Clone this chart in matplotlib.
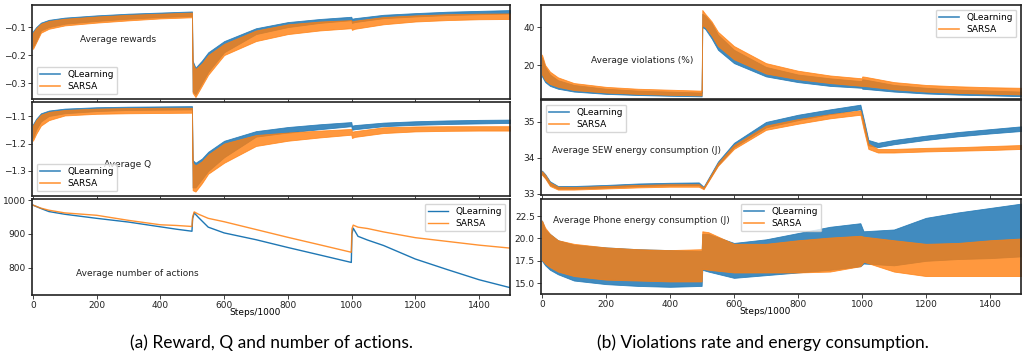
import matplotlib
matplotlib.use("Agg")
import matplotlib.pyplot as plt
from matplotlib.lines import Line2D

# ---- data (band = lower/upper envelope of the noisy curves) ----
band_steps = [0, 10, 25, 50, 100, 200, 300, 400, 499, 501, 510, 530, 550, 600,
              700, 800, 900, 999, 1001, 1010, 1100, 1200, 1300, 1400, 1500]

reward_ql_lo = [-0.170, -0.150, -0.112, -0.100, -0.088, -0.078, -0.070, -0.064, -0.060,
                -0.330, -0.340, -0.300, -0.260, -0.190, -0.125, -0.100, -0.085, -0.075,
                -0.085, -0.082, -0.068, -0.062, -0.057, -0.054, -0.051]
reward_ql_hi = [-0.115, -0.100, -0.084, -0.074, -0.066, -0.058, -0.052, -0.048, -0.044,
                -0.220, -0.245, -0.220, -0.190, -0.150, -0.104, -0.082, -0.071, -0.063,
                -0.070, -0.068, -0.056, -0.050, -0.045, -0.042, -0.039]
reward_sa_lo = [-0.178, -0.155, -0.120, -0.106, -0.094, -0.084, -0.076, -0.069, -0.065,
                -0.335, -0.350, -0.310, -0.270, -0.200, -0.150, -0.125, -0.112, -0.104,
                -0.110, -0.106, -0.090, -0.080, -0.075, -0.072, -0.071]
reward_sa_hi = [-0.120, -0.104, -0.088, -0.078, -0.070, -0.062, -0.056, -0.052, -0.048,
                -0.230, -0.250, -0.230, -0.200, -0.160, -0.112, -0.090, -0.080, -0.075,
                -0.080, -0.077, -0.064, -0.058, -0.054, -0.052, -0.051]

q_ql_lo = [-1.180, -1.150, -1.120, -1.100, -1.090, -1.082, -1.078, -1.077, -1.076,
           -1.360, -1.360, -1.330, -1.300, -1.250, -1.175, -1.160, -1.148, -1.137,
           -1.150, -1.148, -1.137, -1.132, -1.129, -1.127, -1.125]
q_ql_hi = [-1.130, -1.110, -1.090, -1.080, -1.073, -1.068, -1.066, -1.065, -1.064,
           -1.260, -1.270, -1.255, -1.230, -1.190, -1.155, -1.140, -1.130, -1.122,
           -1.135, -1.133, -1.124, -1.119, -1.116, -1.114, -1.113]
q_sa_lo = [-1.190, -1.165, -1.135, -1.115, -1.098, -1.092, -1.090, -1.089, -1.088,
           -1.370, -1.375, -1.345, -1.310, -1.270, -1.209, -1.190, -1.178, -1.168,
           -1.180, -1.176, -1.162, -1.156, -1.154, -1.153, -1.153]
q_sa_hi = [-1.135, -1.115, -1.095, -1.085, -1.078, -1.073, -1.071, -1.070, -1.070,
           -1.270, -1.280, -1.265, -1.240, -1.200, -1.169, -1.160, -1.153, -1.147,
           -1.157, -1.155, -1.141, -1.138, -1.137, -1.137, -1.137]

viol_ql_lo = [14.0, 11.0, 9.0, 7.5, 6.0, 4.8, 4.2, 3.8, 3.5, 40.0, 39.0, 34.0, 28.0, 21.0,
              14.0, 11.0, 9.0, 8.0, 7.5, 7.4, 6.0, 5.0, 4.4, 4.0, 3.6]
viol_ql_hi = [24.0, 19.0, 15.0, 12.0, 9.5, 7.5, 6.5, 6.0, 5.5, 47.0, 46.0, 42.0, 36.0, 28.0,
              19.0, 15.0, 13.0, 11.5, 12.5, 12.3, 9.5, 8.0, 7.0, 6.5, 6.0]
viol_sa_lo = [15.0, 12.0, 10.0, 8.5, 6.8, 5.5, 4.8, 4.3, 4.0, 41.0, 40.0, 35.5, 30.0, 23.0,
              15.5, 12.5, 10.5, 9.0, 9.0, 8.9, 7.2, 6.0, 5.3, 4.9, 4.5]
viol_sa_hi = [25.5, 20.0, 16.5, 13.5, 10.5, 8.5, 7.5, 7.0, 6.5, 49.0, 47.0, 43.0, 37.5, 30.0,
              21.0, 17.0, 14.5, 13.0, 14.0, 13.8, 11.0, 9.5, 8.8, 8.3, 8.0]

sew_steps = [0, 10, 25, 50, 100, 200, 300, 400, 490, 505, 550, 600, 700, 800, 900, 995,
             1005, 1020, 1050, 1100, 1200, 1300, 1400, 1500]
sew_ql_lo = [33.55, 33.45, 33.25, 33.15, 33.15, 33.18, 33.22, 33.24, 33.25, 33.15, 33.80, 34.30,
             34.85, 35.05, 35.22, 35.35, 34.90, 34.35, 34.30, 34.38, 34.50, 34.60, 34.68, 34.75]
sew_ql_hi = [33.65, 33.55, 33.35, 33.22, 33.22, 33.25, 33.29, 33.31, 33.32, 33.20, 33.90, 34.42,
             35.00, 35.20, 35.35, 35.48, 35.10, 34.50, 34.42, 34.50, 34.62, 34.72, 34.80, 34.88]
sew_sa_lo = [33.53, 33.43, 33.22, 33.12, 33.12, 33.15, 33.18, 33.20, 33.20, 33.13, 33.78, 34.25,
             34.78, 34.95, 35.10, 35.20, 34.80, 34.25, 34.15, 34.15, 34.18, 34.20, 34.22, 34.25]
sew_sa_hi = [33.63, 33.53, 33.32, 33.20, 33.19, 33.22, 33.25, 33.27, 33.27, 33.18, 33.86, 34.36,
             34.90, 35.08, 35.22, 35.32, 35.00, 34.40, 34.25, 34.25, 34.28, 34.30, 34.33, 34.36]

phone_steps = [0, 10, 25, 50, 100, 200, 300, 400, 499, 501, 520, 600, 700, 800, 900, 995,
               1005, 1100, 1200, 1300, 1400, 1500]
phone_ql_lo = [17.5, 17.0, 16.5, 16.0, 15.3, 14.9, 14.7, 14.6, 14.7, 16.5, 16.3, 15.6, 15.9,
               16.2, 16.5, 16.9, 17.2, 17.0, 17.5, 17.7, 17.8, 18.0]
phone_ql_hi = [22.0, 21.0, 20.5, 19.8, 19.3, 19.0, 18.8, 18.7, 18.6, 20.5, 20.5, 19.5, 19.9,
               20.6, 21.3, 21.7, 20.8, 21.0, 22.3, 22.9, 23.4, 23.9]
phone_sa_lo = [17.6, 17.2, 16.8, 16.3, 15.8, 15.4, 15.3, 15.2, 15.2, 16.6, 16.5, 16.2, 16.2,
               16.2, 16.3, 16.9, 17.4, 16.3, 15.8, 15.8, 15.8, 15.8]
phone_sa_hi = [22.0, 21.2, 20.5, 19.8, 19.4, 19.0, 18.8, 18.7, 18.8, 20.8, 20.7, 19.4, 19.4,
               19.8, 20.1, 20.3, 20.2, 19.8, 19.4, 19.5, 19.8, 20.0]

act_steps = [0, 25, 50, 100, 200, 300, 400, 450, 499, 501, 506, 520, 550, 600, 700, 800,
             900, 999, 1001, 1005, 1020, 1050, 1100, 1200, 1300, 1400, 1500]
act_ql = [985, 975, 966, 958, 946, 935, 921, 914, 908, 945, 962, 948, 920, 903, 883, 860,
          838, 816, 900, 917, 893, 882, 866, 826, 795, 765, 741]
act_sa = [985, 976, 970, 962, 955, 940, 927, 925, 922, 950, 965, 958, 946, 936, 913, 890,
          868, 846, 915, 926, 920, 916, 906, 889, 878, 867, 858]

labels = ["QLearning", "SARSA"]
xticks = [0, 200, 400, 600, 800, 1000, 1200, 1400]

BLUE = "#1f77b4"
ORANGE = "#ff7f0e"
W, H = 1026, 362

fig = plt.figure(figsize=(W / 100, H / 100), dpi=100)


def make_ax(left, top, right, bottom):
    ax = fig.add_axes([left / W, 1 - bottom / H, (right - left) / W, (bottom - top) / H])
    for s in ax.spines.values():
        s.set_linewidth(1.2)
        s.set_color("#222222")
    ax.tick_params(labelsize=6.5, length=3, width=0.6, pad=1.5, colors="#222222")
    ax.set_xlim(-3, 1497)
    ax.set_xticks(xticks)
    return ax


def bands(ax, x, ql_lo, ql_hi, sa_lo, sa_hi):
    ax.fill_between(x, ql_lo, ql_hi, color=BLUE, alpha=0.85, lw=0.6)
    ax.fill_between(x, sa_lo, sa_hi, color=ORANGE, alpha=0.8, lw=0.6)


def legend(ax, loc):
    handles = [Line2D([], [], color=BLUE, lw=1.2, alpha=0.85),
               Line2D([], [], color=ORANGE, lw=1.2, alpha=0.8)]
    ax.legend(handles, labels, loc=loc, fontsize=6.5, handlelength=2.2,
              borderpad=0.4, labelspacing=0.3, framealpha=0.8, edgecolor="0.8")


def note(ax, x, y, s):
    ax.text(x, y, s, transform=ax.transAxes, ha="center", va="center",
            fontsize=6.5, color="#222222")


# ---- (a) left column ----
ax = make_ax(32, 5, 510, 99)
bands(ax, band_steps, reward_ql_lo, reward_ql_hi, reward_sa_lo, reward_sa_hi)
ax.set_ylim(-0.357, -0.021)
ax.set_yticks([-0.3, -0.2, -0.1])
ax.set_xticklabels([])
legend(ax, "lower left")
note(ax, 0.18, 0.63, "Average rewards")

ax = make_ax(32, 102, 510, 196)
bands(ax, band_steps, q_ql_lo, q_ql_hi, q_sa_lo, q_sa_hi)
ax.set_ylim(-1.391, -1.049)
ax.set_yticks([-1.3, -1.2, -1.1])
ax.set_xticklabels([])
legend(ax, "lower left")
note(ax, 0.2, 0.34, "Average Q")

ax = make_ax(32, 199, 510, 295)
ax.plot(act_steps, act_ql, color=BLUE, lw=1.0, label=labels[0])
ax.plot(act_steps, act_sa, color=ORANGE, lw=1.0, alpha=0.85, label=labels[1])
ax.set_ylim(720, 1003)
ax.set_yticks([800, 900, 1000])
ax.legend(loc="upper right", fontsize=6.5, handlelength=2.2, borderpad=0.4,
          labelspacing=0.3, framealpha=0.8, edgecolor="0.8")
note(ax, 0.22, 0.22, "Average number of actions")
ax.set_xlabel("Steps/1000", fontsize=6.5)
ax.xaxis.set_label_coords(0.467, -0.135)

# ---- (b) right column ----
ax = make_ax(541, 5, 1021, 99)
bands(ax, band_steps, viol_ql_lo, viol_ql_hi, viol_sa_lo, viol_sa_hi)
ax.set_ylim(2.1, 51.6)
ax.set_yticks([20, 40])
ax.set_xticklabels([])
legend(ax, "upper right")
note(ax, 0.21, 0.41, "Average violations (%)")

ax = make_ax(541, 100, 1021, 195)
bands(ax, sew_steps, sew_ql_lo, sew_ql_hi, sew_sa_lo, sew_sa_hi)
ax.set_ylim(32.97, 35.61)
ax.set_yticks([33, 34, 35])
ax.set_xticklabels([])
legend(ax, "upper left")
note(ax, 0.2, 0.47, "Average SEW energy consumption (J)")

ax = make_ax(541, 199, 1021, 294)
bands(ax, phone_steps, phone_ql_lo, phone_ql_hi, phone_sa_lo, phone_sa_hi)
ax.set_ylim(13.8, 24.4)
ax.set_yticks([15.0, 17.5, 20.0, 22.5])
ax.set_yticklabels(["15.0", "17.5", "20.0", "22.5"])
legend(ax, "upper center")
note(ax, 0.21, 0.77, "Average Phone energy consumption (J)")
ax.set_xlabel("Steps/1000", fontsize=6.5)
ax.xaxis.set_label_coords(0.467, -0.135)

# captions
fig.text(271 / W, 1 - 343 / H, "(a) Reward, Q and number of actions.",
         ha="center", va="center", fontsize=12.5, family="Lato")
fig.text(763 / W, 1 - 343 / H, "(b) Violations rate and energy consumption.",
         ha="center", va="center", fontsize=12.5, family="Lato")

fig.savefig("out.png", dpi=100)
